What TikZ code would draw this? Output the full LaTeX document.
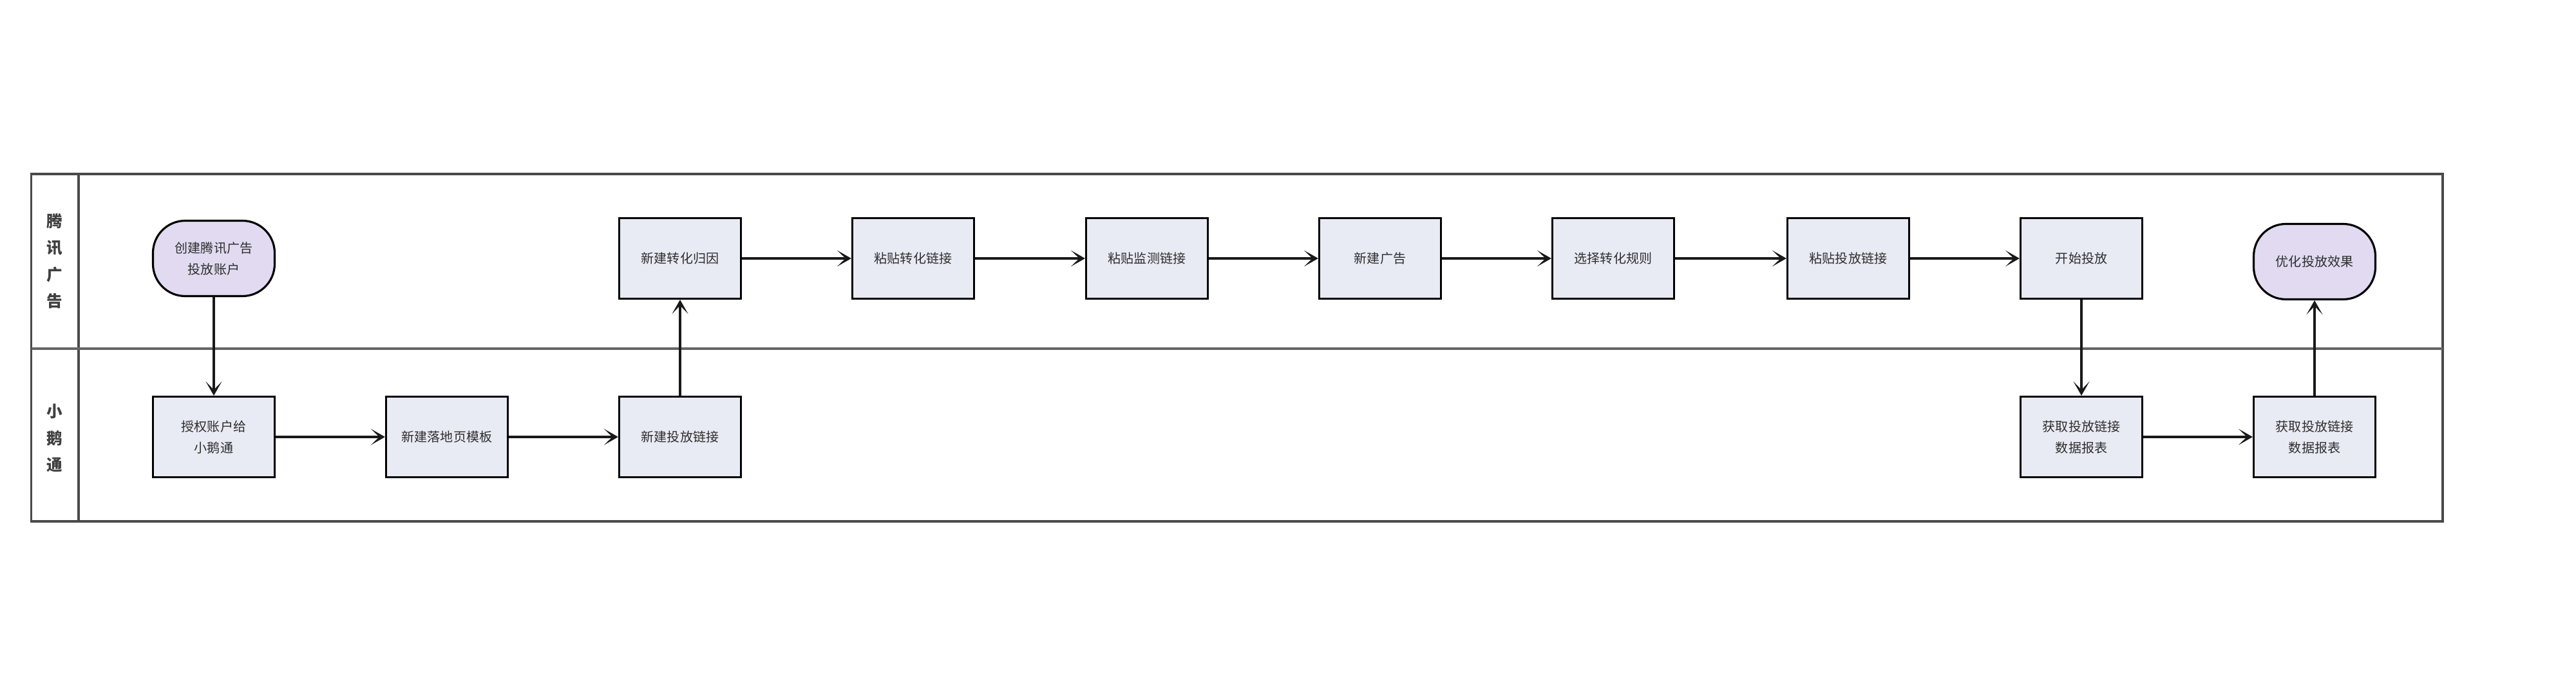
\documentclass[tikz,border=0pt]{standalone}
\usepackage{fontspec}
\setmainfont{Noto Sans CJK SC}
\usetikzlibrary{positioning, arrows.meta}

\definecolor{boxfill}{HTML}{E8EBF3}
\definecolor{termfill}{HTML}{E1DAF0}
\definecolor{laneline}{HTML}{4A4A4A}
\definecolor{inktext}{HTML}{2E2E2E}

\begin{document}
\begin{tikzpicture}[
    >={Stealth[length=2.2mm, width=2.5mm, inset=1.3mm]},
    stepbox/.style={draw=black, line width=0.9pt, fill=boxfill, minimum width=1.89cm,
        minimum height=1.25cm, inner sep=0pt, align=center, text=inktext,
        font=\fontsize{5.7pt}{9.4pt}\selectfont},
    terminal/.style={stepbox, fill=termfill, rounded corners=0.5cm, minimum height=1.17cm},
    lanetext/.style={text=black!75, align=center, font=\fontsize{7pt}{11.8pt}\selectfont\bfseries},
    flow/.style={->, line width=0.9pt, black!90},
]

% ---- canvas ----
\useasboundingbox (0,0) rectangle (40,-10.8);

% ---- swimlanes ----
\draw[laneline, line width=1pt] (0.485,-2.70) rectangle (37.93,-8.09);
\draw[laneline, line width=1pt] (1.22,-2.70) -- (1.22,-8.09);
\draw[laneline!85, line width=1pt] (0.485,-5.41) -- (37.93,-5.41);

\node[lanetext] (laneTx) at (0.85,-4.05) {腾\\讯\\广\\告};
\node[lanetext] (laneXe) at (0.85,-6.80) {小\\鹅\\通};

% ---- Tencent ads lane ----
\node[terminal] (open)    at (3.32,-4.01)  {创建腾讯广告\\投放账户};
\node[stepbox]  (attrib)  at (10.56,-4.01) {新建转化归因};
\node[stepbox]  (pasteCv) at (14.18,-4.01) {粘贴转化链接};
\node[stepbox]  (pasteMon) at (17.81,-4.01) {粘贴监测链接};
\node[stepbox]  (newAd)   at (21.43,-4.01) {新建广告};
\node[stepbox]  (rule)    at (25.05,-4.01) {选择转化规则};
\node[stepbox]  (pasteAd) at (28.70,-4.01) {粘贴投放链接};
\node[stepbox]  (launch)  at (32.32,-4.01) {开始投放};
\node[terminal] (tune)    at (35.94,-4.06) {优化投放效果};

% ---- Xiaoe lane ----
\node[stepbox] (grant)   at (3.32,-6.78)  {授权账户给\\小鹅通};
\node[stepbox] (landing) at (6.94,-6.78)  {新建落地页模板};
\node[stepbox] (link)    at (10.56,-6.78) {新建投放链接};
\node[stepbox] (report)  at (32.32,-6.78) {获取投放链接\\数据报表};
\node[stepbox] (report2) at (35.94,-6.78) {获取投放链接\\数据报表};

% ---- connectors ----
\draw[flow] (open) -- (grant);
\draw[flow] (grant) -- (landing);
\draw[flow] (landing) -- (link);
\draw[flow] (link) -- (attrib);
\foreach \a/\b in {attrib/pasteCv, pasteCv/pasteMon, pasteMon/newAd, newAd/rule,
                   rule/pasteAd, pasteAd/launch}
    \draw[flow] (\a) -- (\b);
\draw[flow] (launch) -- (report);
\draw[flow] (report) -- (report2);
\draw[flow] (report2) -- (tune);

\end{tikzpicture}
\end{document}
